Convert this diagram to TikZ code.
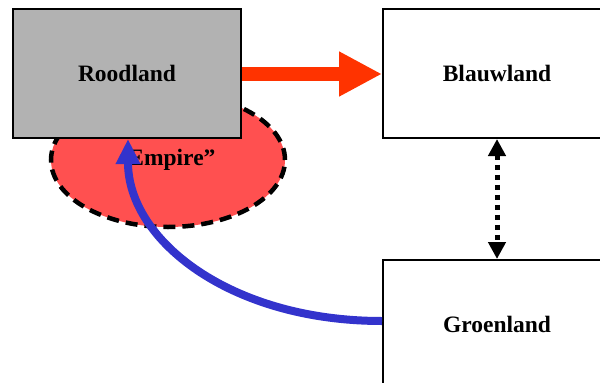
\documentclass[tikz,border=0pt]{standalone}
\usepackage{fontspec}
\setmainfont{Liberation Serif}
\usetikzlibrary{arrows.meta,shapes.geometric}
\definecolor{boxgray}{HTML}{B2B2B2}
\definecolor{empirered}{HTML}{FF5050}
\definecolor{arrowred}{HTML}{FF3300}
\definecolor{arrowblue}{HTML}{3333CC}
\begin{document}
\begin{tikzpicture}[x=1pt,y=-1pt,
  labelfont/.style={font=\bfseries\fontsize{23.5}{27}\selectfont},
  land/.style={draw=black, line width=2pt, minimum width=228pt, minimum height=129pt,
    inner sep=0pt, labelfont},
  empire/.style={ellipse, fill=empirered, draw=black, line width=4.5pt,
    dash pattern=on 12pt off 7pt, minimum width=234pt, minimum height=134pt,
    inner sep=0pt}
]
\useasboundingbox (0,0) rectangle (600,383);
\clip (0,0) rectangle (600,383);

% empire area behind the red country
\node[empire] (emp) at (168,160) {};
\node[labelfont] (emptext) at (168,160) {‘Empire”};

\node[land, fill=boxgray] (rood) at (127,73.5) {Roodland};
\node[land, fill=white] (blauw) at (497,73.5) {Blauwland};
\node[land, fill=white] (groen) at (497,324.5) {Groenland};

% trade from red to blue
\draw[arrowred, line width=14pt, -{Triangle[length=43pt,width=42pt]}]
  (rood.east |- 0,74) -- (blauw.west |- 0,74);

% two-way link between blue and green
\draw[black, line width=5pt, dash pattern=on 5pt off 5pt,
  {Triangle[length=17pt,width=17pt]}-{Triangle[length=17pt,width=17pt]}]
  (blauw.south) -- (groen.north);

% green pulled into the empire
\coordinate (gstart) at (groen.west |- 0,321);
\coordinate (rend) at (rood.south -| 128,0);
\draw[arrowblue, line width=8pt, -{Triangle[length=25pt,width=23pt]}]
  (gstart) .. controls (230,321) and (128,240) .. (rend);
\end{tikzpicture}
\end{document}
